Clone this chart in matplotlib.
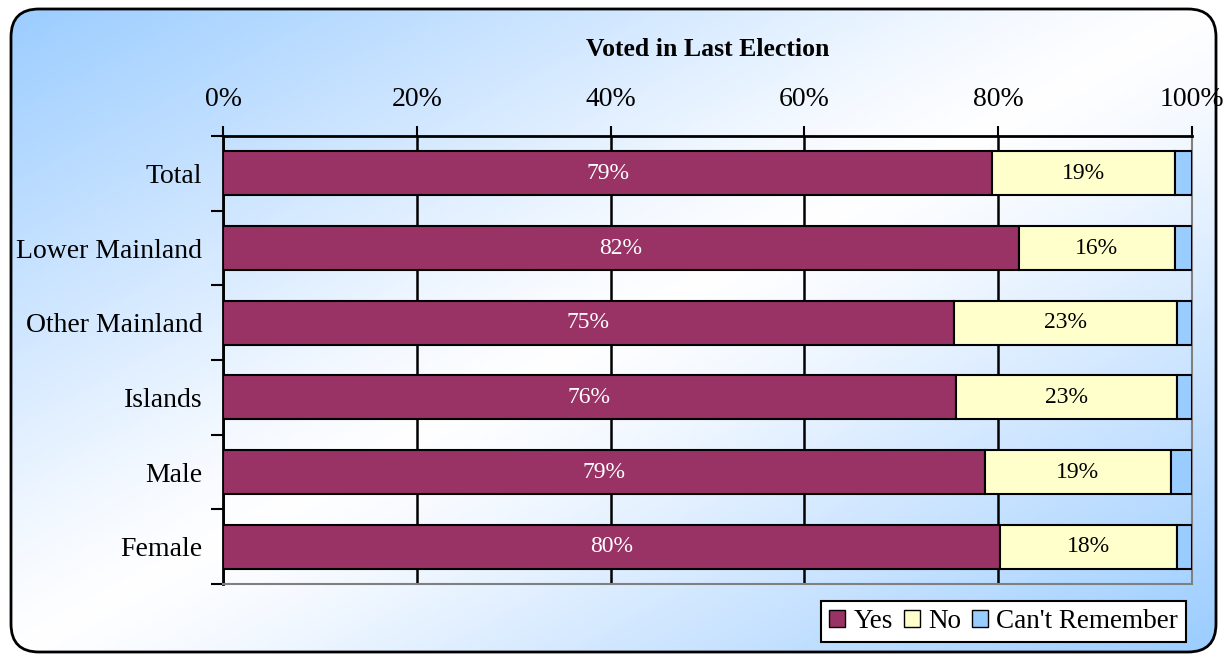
import numpy as np
import matplotlib
matplotlib.use("Agg")
import matplotlib.pyplot as plt
from matplotlib.patches import FancyBboxPatch, Patch
from matplotlib.colors import LinearSegmentedColormap

# Data (percent of respondents)
categories = ["Total", "Lower Mainland", "Other Mainland", "Islands", "Male", "Female"]
yes = [79.4, 82.1, 75.4, 75.6, 78.6, 80.2]
no = [18.8, 16.1, 23.1, 22.9, 19.2, 18.3]
cant_remember = [1.8, 1.8, 1.5, 1.5, 2.2, 1.5]
tick_vals = [0, 20, 40, 60, 80, 100]

plt.rcParams['font.family'] = ['Liberation Serif', 'DejaVu Serif']

W, H = 1227, 661
fig = plt.figure(figsize=(W / 100, H / 100), dpi=100)

# background: diagonal blue-white-blue gradient inside a rounded frame
bg = fig.add_axes([0, 0, 1, 1])
bg.set_xlim(0, W)
bg.set_ylim(H, 0)
bg.axis('off')
xx, yy = np.meshgrid(np.linspace(0, 1, 300), np.linspace(0, 1, 200))
t = (xx + yy) / 2
cmap = LinearSegmentedColormap.from_list(
    'bgc', [(0, '#99ccff'), (0.25, '#cfe6ff'), (0.42, '#f4f9ff'), (0.5, '#ffffff'),
            (0.58, '#f4f9ff'), (0.75, '#cfe6ff'), (1, '#99ccff')])
img = bg.imshow(t, cmap=cmap, extent=[0, W, H, 0], aspect='auto', zorder=0)
frame = FancyBboxPatch((11, 9), W - 22, H - 18, boxstyle="round,pad=0,rounding_size=28",
                       facecolor='none', edgecolor='black', linewidth=2, zorder=2)
bg.add_patch(frame)
img.set_clip_path(frame)

# main chart
ax = fig.add_axes([223 / W, 1 - 584 / H, 969 / W, 448 / H])
ax.patch.set_alpha(0)
y = np.arange(len(categories))
bh = 0.59
b1 = ax.barh(y, yes, height=bh, color='#993366', edgecolor='black', linewidth=1.5, zorder=3)
b2 = ax.barh(y, no, left=yes, height=bh, color='#ffffcc', edgecolor='black', linewidth=1.5, zorder=3)
left3 = [a + b for a, b in zip(yes, no)]
b3 = ax.barh(y, cant_remember, left=left3, height=bh, color='#99ccff', edgecolor='black', linewidth=1.5, zorder=3)

ax.bar_label(b1, labels=[f"{v:.0f}%" for v in yes], label_type='center', color='white', fontsize=17)
ax.bar_label(b2, labels=[f"{v:.0f}%" for v in no], label_type='center', color='black', fontsize=17)

ax.set_xlim(0, 100)
ax.set_ylim(len(categories) - 0.5, -0.5)
ax.xaxis.tick_top()
ax.set_xticks(tick_vals)
ax.set_xticklabels([f"{v}%" for v in tick_vals], fontsize=20)
ax.tick_params(axis='x', length=7, width=1.5, pad=10)
ax.grid(axis='x', color='black', linewidth=1.8, zorder=1)

ax.set_yticks(np.arange(len(categories) + 1) - 0.5)
ax.set_yticklabels([])
ax.set_yticks(y, minor=True)
ax.set_yticklabels(categories, minor=True, fontsize=20)
ax.tick_params(axis='y', which='major', length=9, width=1.5)
ax.tick_params(axis='y', which='minor', length=0, pad=15)

for s in ['top', 'left']:
    ax.spines[s].set_linewidth(2)
    ax.spines[s].set_color('black')
for s in ['bottom', 'right']:
    ax.spines[s].set_linewidth(1.5)
    ax.spines[s].set_color('#808080')

fig.text((223 + 1192) / 2 / W, 1 - 50 / H, "Voted in Last Election", ha='center', va='center',
         fontsize=18.5, fontweight='bold')

handles = [Patch(facecolor='#993366', edgecolor='black', label='Yes'),
           Patch(facecolor='#ffffcc', edgecolor='black', label='No'),
           Patch(facecolor='#99ccff', edgecolor='black', label="Can't Remember")]
leg = fig.legend(handles=handles, loc='lower right', bbox_to_anchor=(1186 / W, 1 - 642 / H),
                 ncol=3, fontsize=19.5, frameon=True, fancybox=False, handlelength=0.6,
                 handleheight=0.6, handletextpad=0.3, columnspacing=0.4, borderpad=0.3,
                 borderaxespad=0)
leg.get_frame().set_edgecolor('black')
leg.get_frame().set_linewidth(1.5)
leg.get_frame().set_alpha(1)

fig.savefig("out.png", dpi=100)
